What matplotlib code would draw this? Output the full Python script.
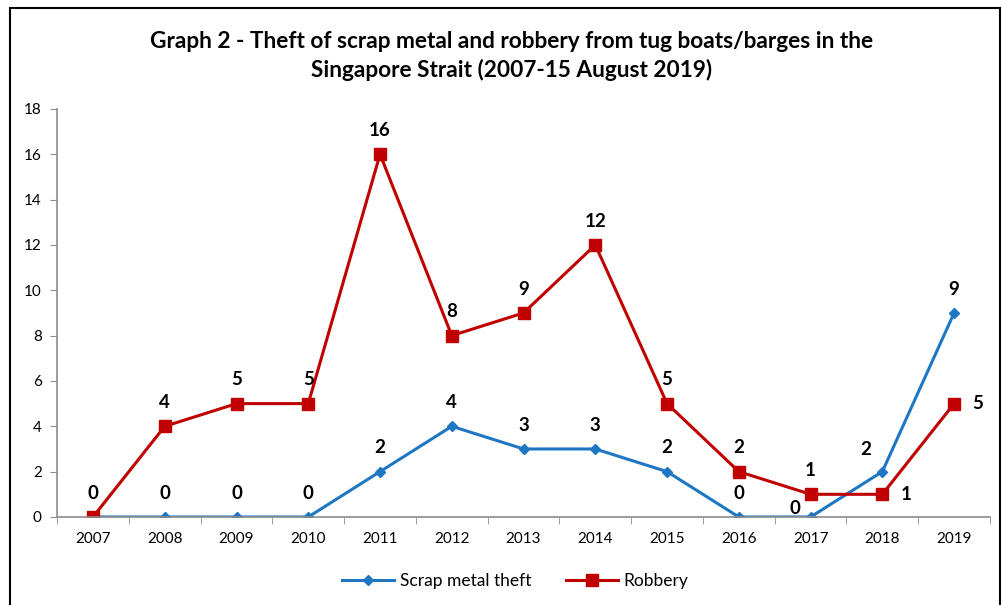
import matplotlib.pyplot as plt
from matplotlib.patches import Rectangle

plt.rcParams['font.family'] = ['Lato', 'DejaVu Sans']

godine = ['2007', '2008', '2009', '2010', '2011', '2012', '2013',
          '2014', '2015', '2016', '2017', '2018', '2019']
scrap = [0, 0, 0, 0, 2, 4, 3, 3, 2, 0, 0, 2, 9]
robbery = [0, 4, 5, 5, 16, 8, 9, 12, 5, 2, 1, 1, 5]

plava = '#1F77C4'
crvena = '#C00000'
siva = '#8C8C8C'

fig = plt.figure(figsize=(10.02, 6.05), dpi=100)
ax = fig.add_axes([0.057, 0.1455, 0.931, 0.6745])

x = list(range(len(godine)))
ax.plot(x, scrap, color=plava, lw=2.2, marker='D', ms=5, label='Scrap metal theft')
ax.plot(x, robbery, color=crvena, lw=2.2, marker='s', ms=8, label='Robbery')

vel = 13.5

# oznake - robbery
for i, v in enumerate(robbery):
    if i in (11, 12):
        ax.annotate(str(v), (i, v), xytext=(13, 0), textcoords='offset points',
                    ha='left', va='center', fontsize=vel, fontweight='bold')
    else:
        ax.annotate(str(v), (i, v), xytext=(0, 11), textcoords='offset points',
                    ha='center', va='bottom', fontsize=vel, fontweight='bold')

# oznake - scrap
for i, v in enumerate(scrap):
    if i == 0:
        continue
    if i == 10:
        ax.annotate(str(v), (i, v), xytext=(-7, 0), textcoords='offset points',
                    ha='right', va='bottom', fontsize=vel, fontweight='bold')
    elif i == 11:
        ax.annotate(str(v), (i, v), xytext=(-12, 10), textcoords='offset points',
                    ha='center', va='bottom', fontsize=vel, fontweight='bold')
    else:
        ax.annotate(str(v), (i, v), xytext=(0, 11), textcoords='offset points',
                    ha='center', va='bottom', fontsize=vel, fontweight='bold')

ax.set_xlim(-0.5, len(godine) - 0.5)
ax.set_ylim(0, 18)
ax.set_yticks(range(0, 19, 2))
ax.set_xticks(x)
ax.set_xticklabels(godine)
ax.set_xticks([i + 0.5 for i in range(-1, len(godine))], minor=True)
ax.tick_params(axis='x', which='major', length=0, pad=11, labelsize=11)
ax.tick_params(axis='x', which='minor', length=5, color=siva)
ax.tick_params(axis='y', length=5, color=siva, labelsize=11, pad=6)

for s in ['top', 'right']:
    ax.spines[s].set_visible(False)
for s in ['left', 'bottom']:
    ax.spines[s].set_color(siva)
    ax.spines[s].set_linewidth(1.2)

fig.text(0.511, 0.907, 'Graph 2 - Theft of scrap metal and robbery from tug boats/barges in the\nSingapore Strait (2007-15 August 2019)',
         ha='center', va='center', fontsize=16.3, fontweight='bold', linespacing=1.4)

fig.legend(loc='center', bbox_to_anchor=(0.514, 0.04), ncol=2, frameon=False,
           fontsize=12.5, handlelength=3, columnspacing=2.0, handletextpad=0.3)

fig.patches.append(Rectangle((0.01, -0.1), 0.988, 1.087, transform=fig.transFigure,
                             fill=False, edgecolor='black', lw=1.5))

plt.savefig('out.png', dpi=100)
